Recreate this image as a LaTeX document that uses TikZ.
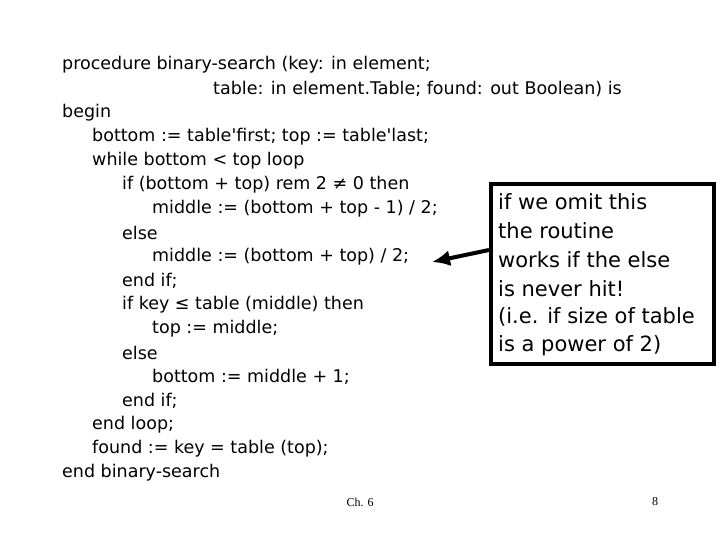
\documentclass[tikz,border=0pt]{standalone}
\usepackage{fontspec}
\setmainfont{DejaVu Sans}
\newfontfamily\serifft{Liberation Serif}
\usetikzlibrary{arrows.meta}
\begin{document}
\begin{tikzpicture}[x=1pt,y=-1pt,
  code/.style={anchor=west,inner sep=0pt,font=\fontsize{17.5}{19}\selectfont},
  note/.style={anchor=west,inner sep=0pt,font=\fontsize{21}{23}\selectfont},
  foot/.style={inner sep=0pt,font=\serifft\fontsize{12}{14}\selectfont}]
\useasboundingbox (0,0) rectangle (720,540);
\node[code] (l1) at (62,65) {procedure binary-search (key: in element;};
\node[code] (l2) at (213,89) {table: in element.Table; found: out Boolean) is};
\node[code] (l3) at (62,113) {begin};
\node[code] (l4) at (92,137) {bottom := table\textquotesingle first; top := table\textquotesingle last;};
\node[code] (l5) at (92,161) {while bottom < top loop};
\node[code] (l6) at (122,185) {if (bottom + top) rem 2 ≠ 0 then};
\node[code] (l7) at (152,209) {middle := (bottom + top - 1) / 2;};
\node[code] (l8) at (122,233) {else};
\node[code] (l9) at (152,257) {middle := (bottom + top) / 2;};
\node[code] (l10) at (122,281) {end if;};
\node[code] (l11) at (122,305) {if key ≤ table (middle) then};
\node[code] (l12) at (152,329) {top := middle;};
\node[code] (l13) at (122,353) {else};
\node[code] (l14) at (152,377) {bottom := middle + 1;};
\node[code] (l15) at (122,401) {end if;};
\node[code] (l16) at (92,425) {end loop;};
\node[code] (l17) at (92,449) {found := key = table (top);};
\node[code] (l18) at (62,473) {end binary-search};
\draw[line width=4pt] (491,184) rectangle (714,364);
\coordinate (box) at (489,250);
\node[note] (n1) at (498,202) {if we omit this};
\node[note] (n2) at (498,231) {the routine};
\node[note] (n3) at (498,260) {works if the else};
\node[note] (n4) at (498,289) {is never hit!};
\node[note] (n5) at (498,317) {(i.e. if size of table};
\node[note] (n6) at (498,346) {is a power of 2)};
\coordinate (tip) at (432,262);
\draw[line width=4pt,-{Latex[length=18pt,width=16pt]}] (box) -- (tip);
\node[foot] (ch) at (360,502) {Ch. 6};
\node[foot] (pg) at (655,502) {8};
\end{tikzpicture}
\end{document}
